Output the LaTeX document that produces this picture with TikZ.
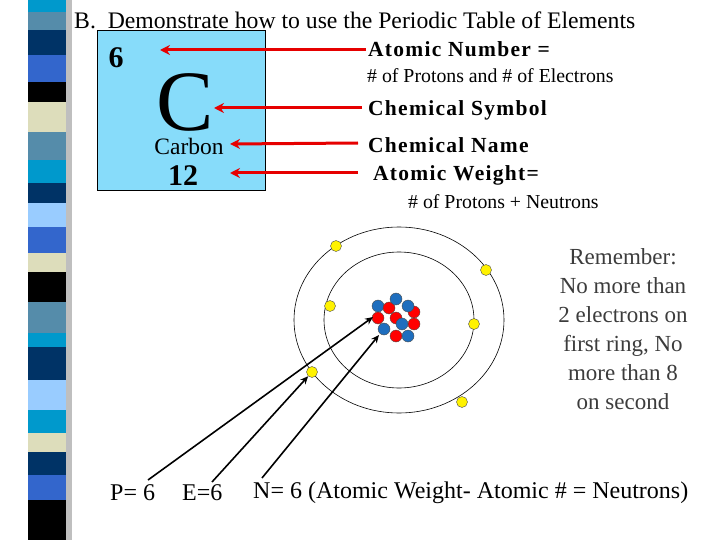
\documentclass[tikz,border=0pt]{standalone}
\usepackage{fontspec}
\setmainfont{Liberation Serif}
\newfontfamily\spacedbold[LetterSpace=6]{Liberation Serif}
\definecolor{scyan}{RGB}{0,153,204}
\definecolor{ssteel}{RGB}{85,140,170}
\definecolor{snavy}{RGB}{0,51,102}
\definecolor{sroyal}{RGB}{51,102,204}
\definecolor{scream}{RGB}{221,221,187}
\definecolor{slight}{RGB}{153,204,255}
\definecolor{boxblue}{RGB}{135,220,250}
\definecolor{ared}{RGB}{230,0,0}
\definecolor{pblue}{RGB}{30,110,190}
\definecolor{remgray}{RGB}{60,60,60}
\usetikzlibrary{arrows.meta}
\tikzset{
 redarr/.style={draw=ared,line width=3pt,-{Stealth[length=10pt,width=10pt]}},
 blkarr/.style={draw=black,line width=1.6pt,-{Stealth[length=8pt,width=7pt]}},
 elec/.style={circle,draw=black!70,fill=yellow,inner sep=0pt,minimum size=11pt},
 prot/.style={circle,draw=black!70,fill=red,inner sep=0pt,minimum size=12pt},
 neut/.style={circle,draw=black!70,fill=pblue,inner sep=0pt,minimum size=12pt},
 lbl/.style={anchor=west,inner sep=0pt,font=\spacedbold\bfseries\fontsize{21.5}{23}\selectfont},
 small/.style={anchor=west,inner sep=0pt,font=\fontsize{19.8}{21}\selectfont},
 big/.style={anchor=west,inner sep=0pt,font=\fontsize{24}{26}\selectfont},
}
\begin{document}
\begin{tikzpicture}[x=1pt,y=-1pt]
\useasboundingbox (0,0) rectangle (720,540);
\fill[white] (0,0) rectangle (720,540);
\fill[black!25] (64,0) rectangle (72,540);
\foreach \a/\b/\c in {0/12/scyan,12/30/ssteel,30/55/snavy,55/82/sroyal,82/102/black,102/132/scream,132/160/ssteel,160/183/scyan,183/203/snavy,203/227/slight,227/253/sroyal,253/272/scream,272/302/black,302/333/ssteel,333/347/scyan,347/380/snavy,380/410/slight,410/433/scyan,433/452/scream,452/475/snavy,475/500/sroyal,500/540/black}
 \fill[\c] (28,\a) rectangle (66,\b);
\node[anchor=west,inner sep=0pt,font=\fontsize{23.7}{26}\selectfont] (title) at (74,20) {B.\ \ Demonstrate how to use the Periodic Table of Elements};
% element box
\node[draw=black,fill=boxblue,minimum width=168pt,minimum height=160pt,inner sep=0pt] (box) at (181,110) {};
\node[font=\bfseries\fontsize{30}{32}\selectfont,inner sep=0pt] (six) at (116,58) {6};
\node[font=\fontsize{86}{86}\selectfont,inner sep=0pt,text depth=0pt,anchor=base] (C) at (185,131) {C};
\node[font=\fontsize{23.5}{25}\selectfont,inner sep=0pt] (carbon) at (189,146) {Carbon};
\node[font=\bfseries\fontsize{30}{32}\selectfont,inner sep=0pt] (twelve) at (183,176) {12};
% right labels
\node[lbl] (an) at (368,49) {Atomic Number =};
\node[small] (anp) at (367,76) {\# of Protons and \# of Electrons};
\node[lbl] (cs) at (368,110) {Chemical Symbol};
\node[lbl] (cn) at (368,145) {Chemical Name};
\node[lbl] (aw) at (373,175) {Atomic Weight=};
\node[small] (awp) at (408,202) {\# of Protons + Neutrons};
\coordinate (t1) at (160,50);
\coordinate (t2) at (214,108);
\coordinate (t3) at (230,144);
\coordinate (t4) at (230,173);
\draw[redarr] (an.west) ++(-2,1) -- (t1);
\draw[redarr] (cs.west) ++(-6,-2) -- (t2);
\draw[redarr] (cn.west) ++(-10,-2) -- (t3);
\draw[redarr] (aw.west) ++(-15,-2) -- (t4);
% atom
\coordinate (ctr) at (399,320);
\draw[black,line width=0.6pt] (ctr) ellipse [x radius=105,y radius=93];
\draw[black,line width=0.6pt] (ctr) ellipse [x radius=75,y radius=68];
\foreach \n/\x/\y in {e1/336/246,e2/486/270,e3/330/306,e4/474/324,e5/312/372,e6/462/402}
 \node[elec] (\n) at (\x,\y) {};
\node[neut] at (378,306) {};
\node[prot] at (389,308) {};
\node[neut] at (396,299) {};
\node[prot] at (414,312) {};
\node[neut] at (408,306) {};
\node[prot] at (378,318) {};
\node[prot] at (396,318) {};
\node[prot] at (414,324) {};
\node[neut] at (402,324) {};
\node[neut] at (384,329) {};
\node[prot] at (396,336) {};
\node[neut] (nlast) at (408,336) {};
\coordinate (pt) at (373,317);
\coordinate (nt) at (379,335);
% remember
\node[align=center,text=remgray,font=\fontsize{23}{29}\selectfont,inner sep=0pt,anchor=north] (rem) at (623,248) {Remember:\\No more than\\2 electrons on\\first ring, No\\more than 8\\on second};
% bottom
\node[big] (P) at (110,493) {P= 6};
\node[big] (E) at (182,493) {E=6};
\node[big] (N) at (253,493) {N= 6 (Atomic Weight- Atomic \# = Neutrons)};
\coordinate (ps) at (148,480);
\coordinate (es) at (212,482);
\coordinate (ns) at (262,478);
\draw[blkarr] (ps) -- (pt);
\draw[blkarr] (es) -- (e5);
\draw[blkarr] (ns) -- (nt);
\end{tikzpicture}
\end{document}
